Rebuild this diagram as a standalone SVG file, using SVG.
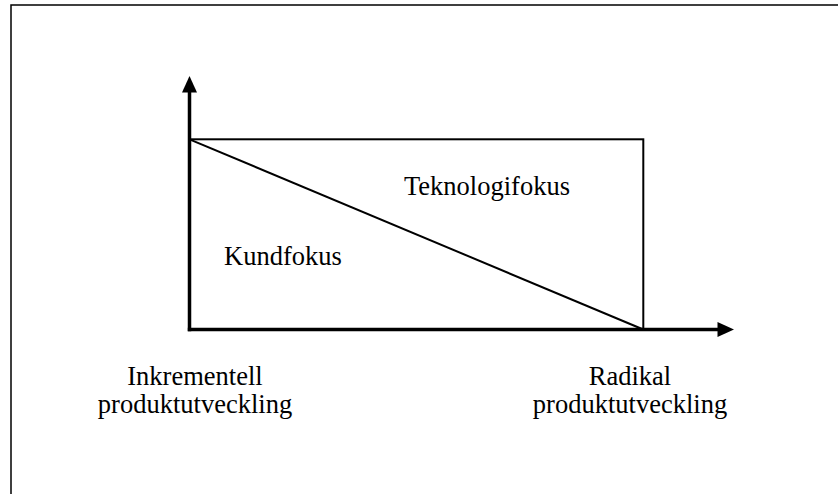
<svg xmlns="http://www.w3.org/2000/svg" width="838" height="494" viewBox="0 0 838 494">
<style>
.lbl{font-family:"Liberation Serif","Times New Roman",serif;font-size:26.5px;fill:#000}
.thin{stroke:#000;stroke-width:2;fill:none}
.axis{stroke:#000;stroke-width:3.5;fill:none}
</style>
<rect width="838" height="494" fill="#fff"/>
<rect x="11" y="5" width="840" height="500" fill="none" stroke="#000" stroke-width="1.5"/>
<g id="connectors">
<rect class="thin" x="189.5" y="139.3" width="453.8" height="190.2"/>
<line class="thin" x1="189.5" y1="139.3" x2="643.3" y2="329.5"/>
<line class="axis" x1="189.5" y1="331.2" x2="189.5" y2="90"/>
<polygon points="189.5,76 182,92.5 197,92.5" fill="#000"/>
<line class="axis" x1="187.8" y1="329.5" x2="720" y2="329.5"/>
<polygon points="734,329.5 717.5,322 717.5,337" fill="#000"/>
</g>
<g id="teknologifokus"><text class="lbl" x="404" y="195">Teknologifokus</text></g>
<g id="kundfokus"><text class="lbl" x="224" y="265">Kundfokus</text></g>
<g id="inkrementell"><text class="lbl" text-anchor="middle"><tspan x="195" y="385">Inkrementell</tspan><tspan x="195" y="413">produktutveckling</tspan></text></g>
<g id="radikal"><text class="lbl" text-anchor="middle"><tspan x="630" y="385">Radikal</tspan><tspan x="630" y="413">produktutveckling</tspan></text></g>
</svg>
